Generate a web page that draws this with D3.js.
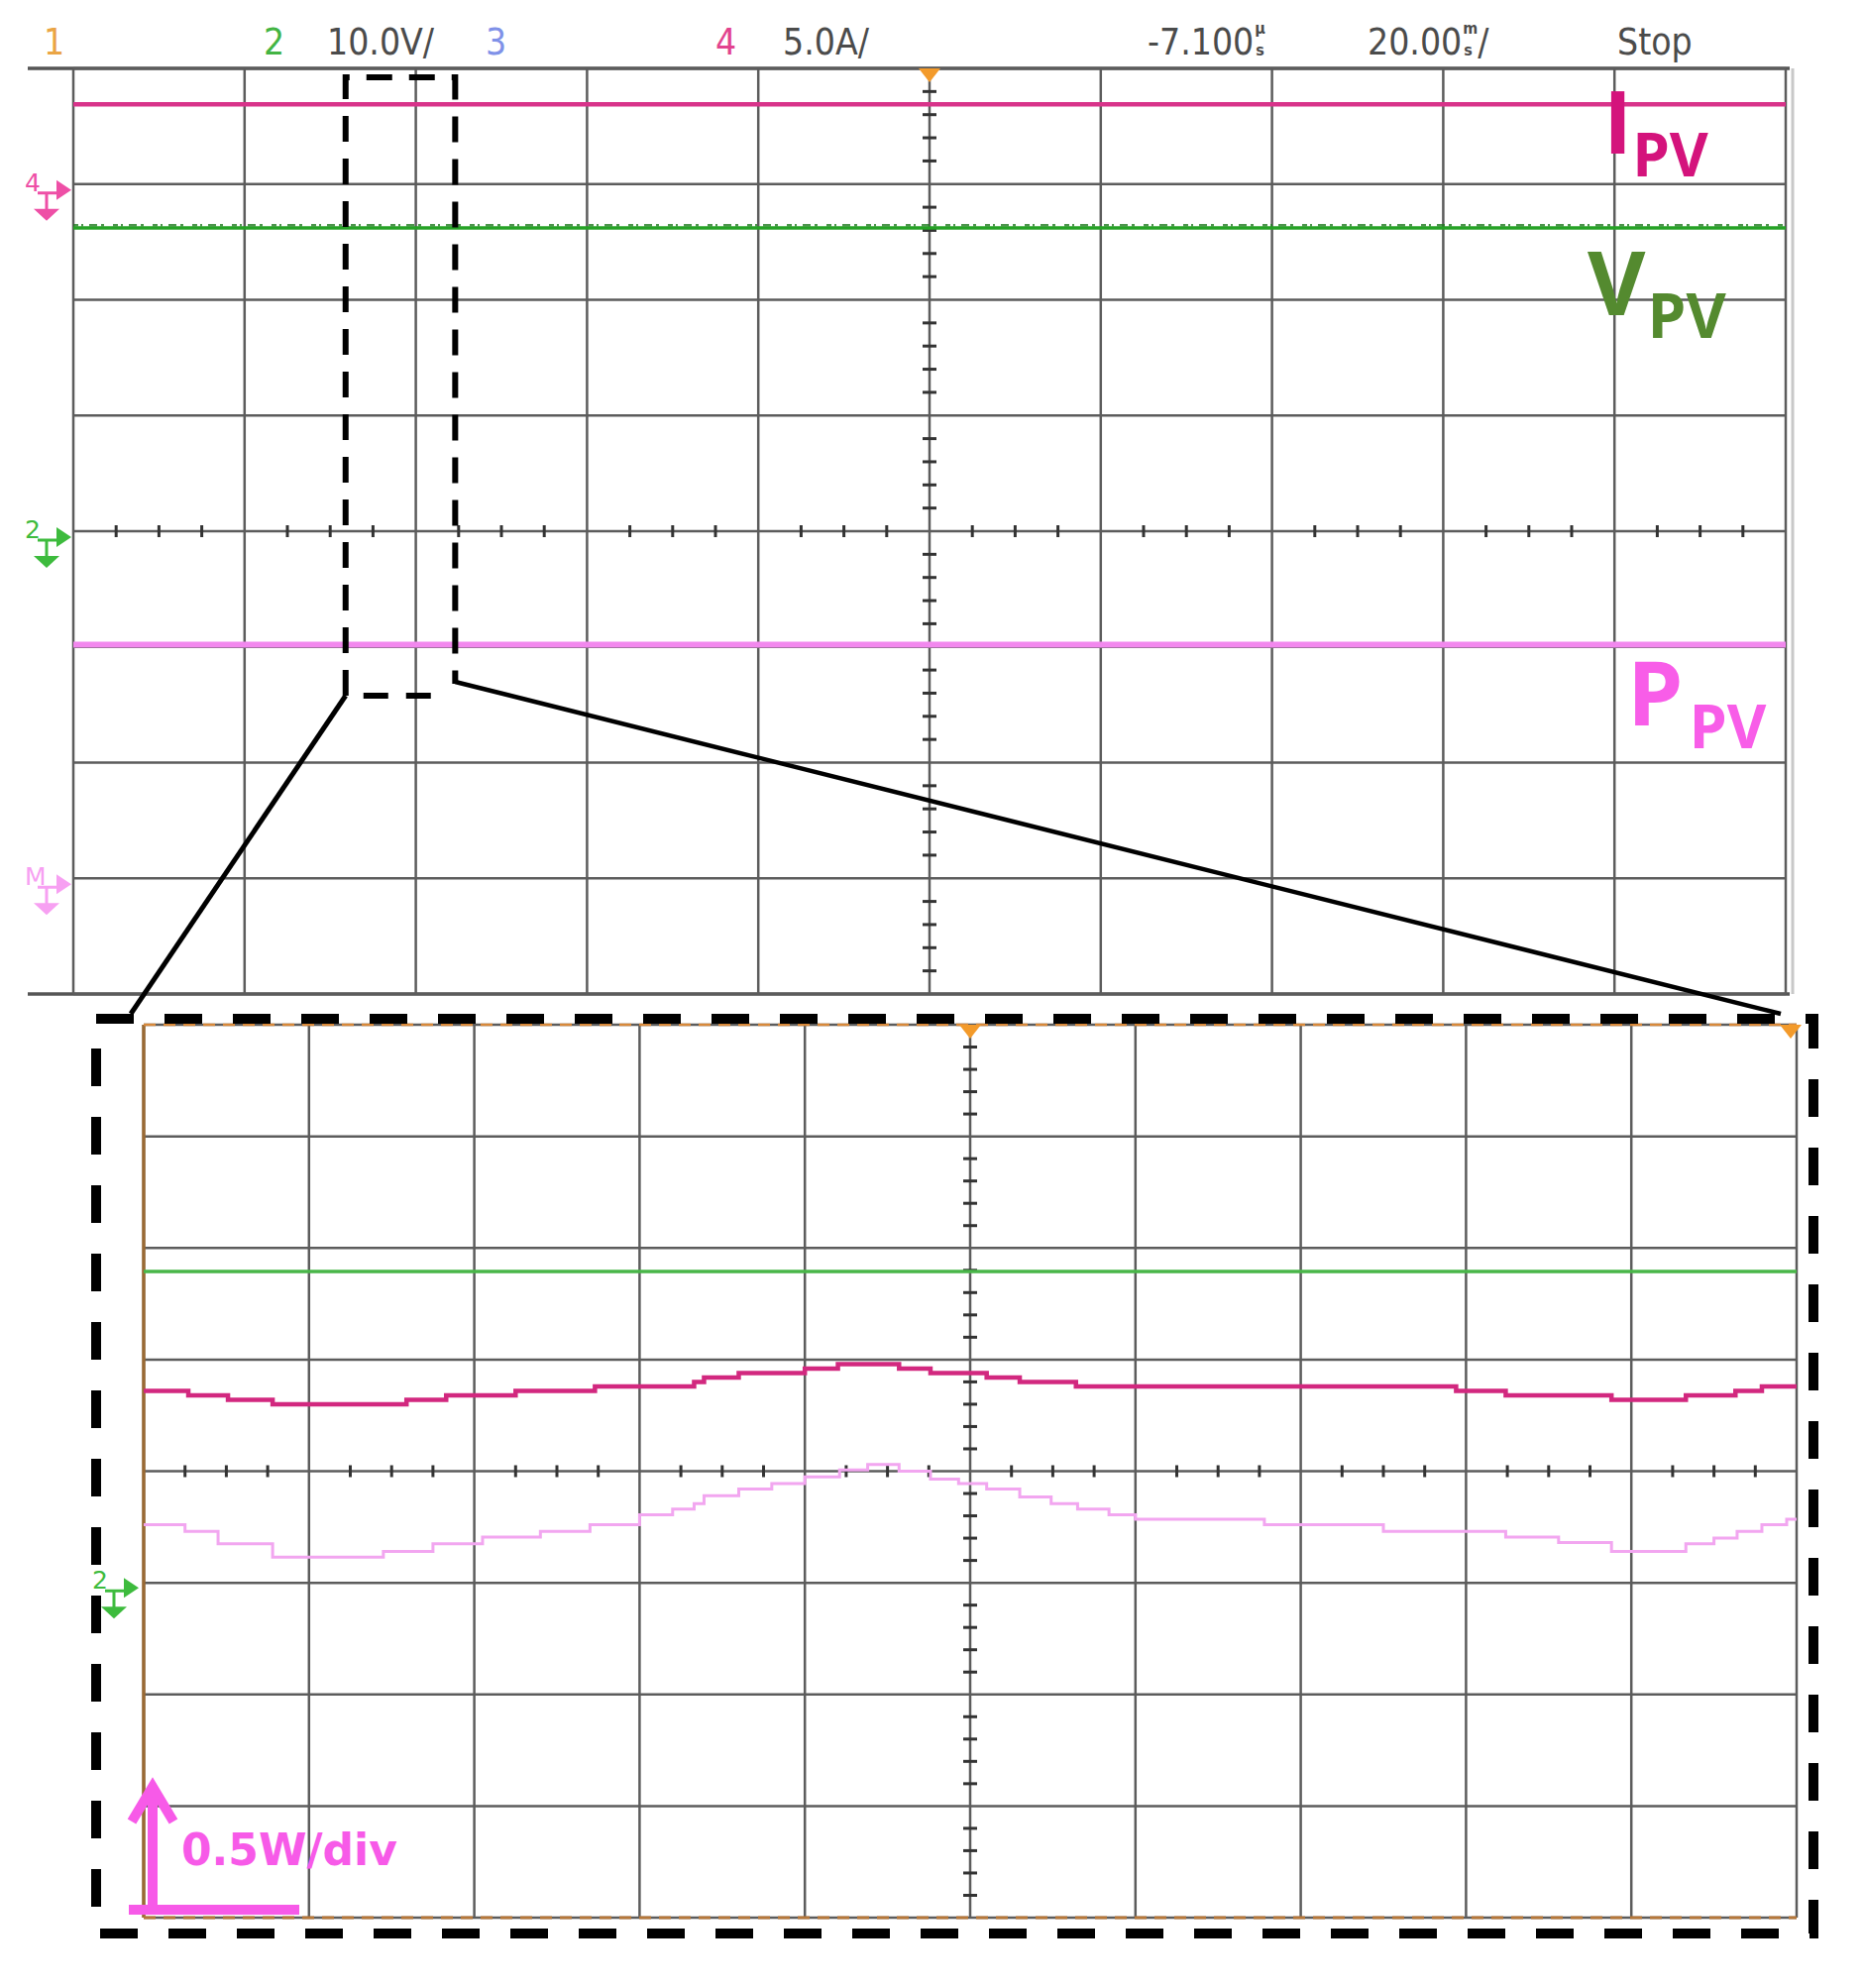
<!DOCTYPE html>
<html>
<head>
<meta charset="utf-8">
<script src="https://cdn.jsdelivr.net/npm/d3@7"></script>
<style>
	body { margin: 0; background: #fff; }
</style>
</head>
<body>
<div id="chart-area"></div>
<script>

// Scope readout texts (top line)
var headerText = ["1", "2", "10.0V/", "3", "4", "5.0A/", "-7.100", "20.00", "Stop"];

// Top screen: trace levels in divisions from the centre line
var traceNames = ["I", "V", "P"];
var topLevels = [3.69, 2.62, -0.98];
var groundLevels = [3, 0, -3];   // ch4, ch2, math markers
var groundLabels = ["4", "2", "M"];

// part of the top screen that is blown up below (divisions)
var zoomWindow = [1.59, 2.23];

// Zoomed screen: stepped traces, time in divisions, level in divisions
var zoomVpvLevel = 1.79;

var zoomIpvTime  = [0, 0.27, 0.51, 0.78, 1.59, 1.83, 2.25, 2.73, 3.33, 3.39, 3.60, 4.00, 4.20, 4.57, 4.76, 5.10, 5.30, 5.64, 7.94, 8.24, 8.88, 9.33, 9.63, 9.79, 10];
var zoomIpvLevel = [0.72, 0.68, 0.64, 0.60, 0.64, 0.68, 0.72, 0.76, 0.80, 0.84, 0.88, 0.92, 0.96, 0.92, 0.88, 0.84, 0.80, 0.76, 0.72, 0.68, 0.64, 0.68, 0.72, 0.76, 0.76];

var zoomPpvTime  = [0, 0.25, 0.45, 0.78, 1.45, 1.75, 2.05, 2.40, 2.70, 3.00, 3.20, 3.33, 3.39, 3.60, 3.80, 4.00, 4.21, 4.38, 4.57, 4.76, 4.93, 5.10, 5.30, 5.49, 5.65, 5.84, 6.00, 6.78, 7.50, 8.24, 8.56, 8.88, 9.33, 9.50, 9.64, 9.79, 9.94, 10];
var zoomPpvLevel = [-0.48, -0.54, -0.65, -0.77, -0.72, -0.65, -0.59, -0.54, -0.48, -0.39, -0.34, -0.29, -0.22, -0.16, -0.11, -0.05, 0.01, 0.06, 0.0, -0.07, -0.11, -0.16, -0.23, -0.29, -0.34, -0.39, -0.43, -0.48, -0.54, -0.59, -0.64, -0.72, -0.65, -0.60, -0.54, -0.48, -0.43, -0.43];


var width = 1881, height = 2006;

var svg = d3.select("#chart-area").append("svg")
	.attr("width", width)
	.attr("height", height)
	.style("font-family", "'DejaVu Sans', sans-serif");

var gridColor = "#5c5c5c";

// Scales
var xTop = d3.scaleLinear().domain([0, 10]).range([74, 1802]);
var yTop = d3.scaleLinear().domain([-4, 4]).range([1003, 69]);

var xBot = d3.scaleLinear().domain([0, 10]).range([145, 1813]);
var yBot = d3.scaleLinear().domain([-4, 4]).range([1935, 1034]);


// draw a 10 x 8 scope graticule with the centre cross ticks
function drawGrid(g, x, y) {
	g.selectAll(".vgrid")
		.data(d3.range(0, 11))
		.enter().append("line")
		.attr("class", "vgrid")
		.attr("x1", function(d) { return x(d); })
		.attr("x2", function(d) { return x(d); })
		.attr("y1", y(4))
		.attr("y2", y(-4))
		.attr("stroke", gridColor)
		.attr("stroke-width", 2.5);

	g.selectAll(".hgrid")
		.data(d3.range(-4, 5))
		.enter().append("line")
		.attr("class", "hgrid")
		.attr("x1", x(0))
		.attr("x2", x(10))
		.attr("y1", function(d) { return y(d); })
		.attr("y2", function(d) { return y(d); })
		.attr("stroke", gridColor)
		.attr("stroke-width", 2.5);

	g.selectAll(".htick")
		.data(d3.range(0, 40).map(function(i) { return i / 4; }).filter(function(d) { return d % 1 !== 0; }))
		.enter().append("line")
		.attr("class", "htick")
		.attr("x1", function(d) { return x(d); })
		.attr("x2", function(d) { return x(d); })
		.attr("y1", y(0) - 6)
		.attr("y2", y(0) + 6)
		.attr("stroke", "#333")
		.attr("stroke-width", 3);

	g.selectAll(".vtick")
		.data(d3.range(-20, 21).map(function(i) { return i / 5; }).filter(function(d) { return Math.abs(d % 1) > 0.01; }))
		.enter().append("line")
		.attr("class", "vtick")
		.attr("x1", x(5) - 7)
		.attr("x2", x(5) + 7)
		.attr("y1", function(d) { return y(d); })
		.attr("y2", function(d) { return y(d); })
		.attr("stroke", "#333")
		.attr("stroke-width", 3);
}

function trigMark(g, cx, cy) {
	g.append("path")
		.attr("d", "M" + (cx - 11) + "," + cy + "L" + (cx + 11) + "," + cy + "L" + cx + "," + (cy + 14) + "Z")
		.attr("fill", "#f39a2a");
}

// channel ground marker: number, step glyph, arrow, ground triangle
function groundMark(g, tipX, cy, label, color) {
	var m = g.append("g").attr("fill", color).attr("stroke", color);
	m.append("path")
		.attr("d", "M" + tipX + "," + cy + "L" + (tipX - 15) + "," + (cy - 10) + "L" + (tipX - 15) + "," + (cy + 10) + "Z")
		.attr("stroke", "none");
	m.append("text")
		.attr("x", tipX - 47)
		.attr("y", cy + 1)
		.attr("stroke", "none")
		.style("font-size", "25px")
		.text(label);
	m.append("path")
		.attr("d", "M" + (tipX - 34) + "," + (cy + 3) + "h20 M" + (tipX - 25) + "," + (cy + 3) + "v17")
		.attr("fill", "none")
		.attr("stroke-width", 3);
	m.append("path")
		.attr("d", "M" + (tipX - 38) + "," + (cy + 19) + "h26 l-13,12 Z")
		.attr("stroke", "none");
}


// ---------------- top screen ----------------
var topScreen = svg.append("g").attr("class", "top-screen");

// outer frame
topScreen.append("line")
	.attr("x1", 28).attr("x2", 1806)
	.attr("y1", yTop(4)).attr("y2", yTop(4))
	.attr("stroke", "#555").attr("stroke-width", 3.5);
topScreen.append("line")
	.attr("x1", 28).attr("x2", 1806)
	.attr("y1", yTop(-4)).attr("y2", yTop(-4))
	.attr("stroke", "#555").attr("stroke-width", 3.5);
topScreen.append("line")
	.attr("x1", 1809).attr("x2", 1809)
	.attr("y1", yTop(4)).attr("y2", yTop(-4))
	.attr("stroke", "#c8c8c8").attr("stroke-width", 3);

drawGrid(topScreen, xTop, yTop);
trigMark(topScreen, xTop(5), yTop(4));

// header readout
var headerX = [44, 266, 330, 490, 722, 790, 1158, 1380, 1632];
var headerFill = ["#eaa545", "#43b443", "#4b4b4b", "#7f91e8", "#e2438e", "#4b4b4b", "#4b4b4b", "#4b4b4b", "#4b4b4b"];

var header = svg.append("g")
	.style("font-family", "'DejaVu Sans Condensed', 'DejaVu Sans', sans-serif")
	.style("font-stretch", "condensed")
	.style("font-size", "37px");

var headerNodes = header.selectAll("text")
	.data(headerText)
	.enter().append("text")
	.attr("x", function(d, i) { return headerX[i]; })
	.attr("y", 55)
	.attr("fill", function(d, i) { return headerFill[i]; })
	.text(function(d) { return d; });

// stacked unit glyphs right after a readout value
function stackedUnit(index, upper, tail) {
	var node = headerNodes.nodes()[index];
	var x = headerX[index] + node.getComputedTextLength() + 1;
	header.append("text").attr("x", x).attr("y", 34).attr("fill", "#4b4b4b")
		.style("font-size", "16px").style("font-weight", 700).text(upper);
	header.append("text").attr("x", x + 1).attr("y", 56).attr("fill", "#4b4b4b")
		.style("font-size", "16px").style("font-weight", 700).text("s");
	if (tail) {
		header.append("text").attr("x", x + 15).attr("y", 55).attr("fill", "#4b4b4b").text(tail);
	}
}
stackedUnit(6, "\u00b5", null);
stackedUnit(7, "m", "/");

// flat traces on the top screen
var topColors = ["#d8338a", "#25a225", "#f288ee"];
var topWidths = [4.5, 3.5, 6];

var flatLine = d3.line()
	.x(function(d) { return xTop(d[0]); })
	.y(function(d) { return yTop(d[1]); });

topScreen.selectAll(".trace")
	.data(topLevels)
	.enter().append("path")
	.attr("class", "trace")
	.attr("d", function(d) { return flatLine([[0, d], [10, d]]); })
	.attr("fill", "none")
	.attr("stroke", function(d, i) { return topColors[i]; })
	.attr("stroke-width", function(d, i) { return topWidths[i]; });

// noise speckle above the voltage trace
topScreen.append("path")
	.attr("d", flatLine([[0, topLevels[1] + 0.025], [10, topLevels[1] + 0.025]]))
	.attr("fill", "none")
	.attr("stroke", "#1f7a1f")
	.attr("stroke-width", 2.5)
	.attr("stroke-dasharray", "5 3 2 6 8 4 3 9")
	.attr("opacity", 0.8);

var markColors = ["#ee4fa6", "#3dbb3d", "#f7a0f2"];
groundLevels.forEach(function(d, i) {
	groundMark(topScreen, 72, yTop(d) + 6, groundLabels[i], markColors[i]);
});


// ---------------- zoomed screen ----------------
var bot = svg.append("g").attr("class", "zoom-screen");

drawGrid(bot, xBot, yBot);

// scope frame colours
bot.append("line")
	.attr("x1", xBot(0)).attr("x2", xBot(0))
	.attr("y1", yBot(4)).attr("y2", yBot(-4))
	.attr("stroke", "#9a6a34").attr("stroke-width", 3.5);
bot.append("line")
	.attr("x1", xBot(0)).attr("x2", xBot(10))
	.attr("y1", yBot(4)).attr("y2", yBot(4))
	.attr("stroke", "#d8893a").attr("stroke-width", 2.5)
	.attr("stroke-dasharray", "12 8");
bot.append("line")
	.attr("x1", xBot(0)).attr("x2", xBot(10))
	.attr("y1", yBot(-4)).attr("y2", yBot(-4))
	.attr("stroke", "#b5773a").attr("stroke-width", 3)
	.attr("stroke-dasharray", "12 8");

trigMark(bot, xBot(5), yBot(4));
trigMark(bot, xBot(10) - 6, yBot(4));

var stepLine = d3.line()
	.curve(d3.curveStepAfter)
	.x(function(d) { return xBot(d[0]); })
	.y(function(d) { return yBot(d[1]); });

bot.append("path")
	.attr("class", "vpv")
	.attr("d", stepLine([[0, zoomVpvLevel], [10, zoomVpvLevel]]))
	.attr("fill", "none")
	.attr("stroke", "#49b649")
	.attr("stroke-width", 3.5);

bot.append("path")
	.attr("class", "ipv")
	.attr("d", stepLine(d3.zip(zoomIpvTime, zoomIpvLevel)))
	.attr("fill", "none")
	.attr("stroke", "#d2287f")
	.attr("stroke-width", 4.5);

bot.append("path")
	.attr("class", "ppv")
	.attr("d", stepLine(d3.zip(zoomPpvTime, zoomPpvLevel)))
	.attr("fill", "none")
	.attr("stroke", "#f2a6f0")
	.attr("stroke-width", 3);

groundMark(bot, 140, yBot(-1) + 5, "2", "#3dbb3d");


// ---------------- zoom annotation ----------------
var ann = svg.append("g").attr("class", "annotation");

var zx0 = xTop(zoomWindow[0]), zx1 = xTop(zoomWindow[1]);
var zyTop = 78, zyBot = 702;

ann.append("path")
	.attr("d", "M" + zx0 + "," + zyBot + "V" + zyTop + "H" + zx1 + "V" + (zyBot - 12))
	.attr("fill", "none")
	.attr("stroke", "#000")
	.attr("stroke-width", 6)
	.attr("stroke-dasharray", "26 17");
ann.append("path")
	.attr("d", "M" + zx0 + "," + zyBot + "H" + (zx1 - 18))
	.attr("fill", "none")
	.attr("stroke", "#000")
	.attr("stroke-width", 6)
	.attr("stroke-dasharray", "0 18 25 18 25 18");

ann.append("line")
	.attr("x1", zx0).attr("y1", zyBot)
	.attr("x2", 132).attr("y2", 1023)
	.attr("stroke", "#000").attr("stroke-width", 5);
ann.append("line")
	.attr("x1", zx1).attr("y1", zyBot - 14)
	.attr("x2", 1797).attr("y2", 1023)
	.attr("stroke", "#000").attr("stroke-width", 4.5);

ann.append("rect")
	.attr("x", 97).attr("y", 1028)
	.attr("width", 1830 - 97).attr("height", 1951 - 1028)
	.attr("fill", "none")
	.attr("stroke", "#000")
	.attr("stroke-width", 10)
	.attr("stroke-dasharray", "38 31");

// trace labels
var labelFont = "'Open Sans', 'Noto Sans', sans-serif";
var labelX = [1618, 1602, 1642];
var labelY = [155, 318, 732];
var labelSize = [88, 90, 90];
var labelSub = [60, 62, 61];
var labelSubDx = [0, 2, 6];
var labelFill = ["#d4137c", "#548a2f", "#f85de8"];

traceNames.forEach(function(d, i) {
	var t = ann.append("text")
		.attr("x", labelX[i])
		.attr("y", labelY[i])
		.attr("fill", labelFill[i])
		.style("font-family", labelFont)
		.style("font-weight", 700)
		.style("font-size", labelSize[i] + "px");
	t.append("tspan").text(d);
	t.append("tspan")
		.attr("dx", labelSubDx[i])
		.attr("dy", 23)
		.style("font-size", labelSub[i] + "px")
		.text("PV");
});

// power scale marker
var pink = "#f75ae8";
ann.append("line")
	.attr("x1", 154).attr("x2", 154)
	.attr("y1", 1928).attr("y2", 1806)
	.attr("stroke", pink).attr("stroke-width", 10);
ann.append("path")
	.attr("d", "M133,1838L154,1803L175,1838")
	.attr("fill", "none")
	.attr("stroke", pink)
	.attr("stroke-width", 10);
ann.append("line")
	.attr("x1", 130).attr("x2", 302)
	.attr("y1", 1927).attr("y2", 1927)
	.attr("stroke", pink).attr("stroke-width", 10);
ann.append("text")
	.attr("x", 183)
	.attr("y", 1882)
	.attr("fill", pink)
	.style("font-family", "'DejaVu Sans', sans-serif")
	.style("font-weight", 700)
	.style("font-size", "44px")
	.text("0.5W/div");

</script>
</body>
</html>
